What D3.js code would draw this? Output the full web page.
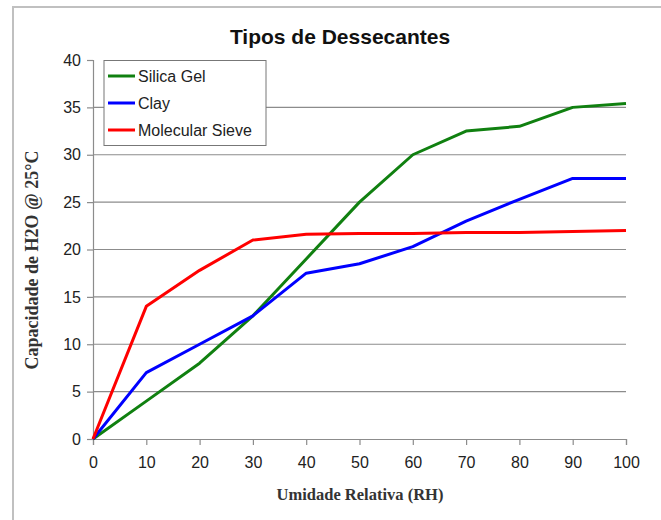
<!DOCTYPE html>
<html><head><meta charset="utf-8">
<script src="https://cdn.jsdelivr.net/npm/d3@7"></script>
<style>body{margin:0;background:#fff}svg{display:block}</style>
</head><body>
<script>
const xValues = [0,10,20,30,40,50,60,70,80,90,100];
const silicaGel = [0,4,8,13,19,25,30,32.5,33,35,35.4];
const clay = [0,7,10,13,17.5,18.5,20.3,23,25.3,27.5,27.5];
const molecularSieve = [0,14,17.8,21,21.6,21.7,21.7,21.8,21.8,21.9,22];
const yTicks = [0,5,10,15,20,25,30,35,40];
const xTicks = [0,10,20,30,40,50,60,70,80,90,100];
const seriesNames = ["Silica Gel","Clay","Molecular Sieve"];
const colors = ["#108010","#0000ff","#ff0000"];

const W=661,H=520;
const svg=d3.select("body").append("svg").attr("width",W).attr("height",H);
// outer frame
svg.append("path").attr("d","M13,520 L13,7 L661,7").attr("fill","none").attr("stroke","#c0c0c0").attr("stroke-width",2);

const x=d3.scaleLinear().domain([0,100]).range([93,626]);
const y=d3.scaleLinear().domain([0,40]).range([439,60]);

// gridlines
svg.append("g").selectAll("line").data(yTicks.filter(d=>d>0&&d<40)).join("line")
  .attr("x1",x(0)).attr("x2",x(100)).attr("y1",d=>y(d)).attr("y2",d=>y(d))
  .attr("stroke","#8c8c8c").attr("stroke-width",1.2);

const yAxis=svg.append("g").attr("transform",`translate(${x(0)},0)`)
  .call(d3.axisLeft(y).tickValues(yTicks).tickSize(6).tickPadding(6));
const xAxis=svg.append("g").attr("transform",`translate(0,${y(0)})`)
  .call(d3.axisBottom(x).tickValues(xTicks).tickSize(6).tickPadding(12));
[yAxis,xAxis].forEach(a=>{
  a.select(".domain").attr("stroke","#8c8c8c").attr("stroke-width",1.2);
  a.selectAll(".tick line").attr("stroke","#8c8c8c").attr("stroke-width",1.2);
  a.selectAll("text").attr("font-family","Liberation Sans, Arial, sans-serif").attr("font-size",16).attr("fill","#222");
});

const data=[silicaGel,clay,molecularSieve];
const line=d3.line().x((d,i)=>x(xValues[i])).y(d=>y(d));
data.forEach((s,k)=>{
  svg.append("path").datum(s).attr("d",line).attr("fill","none")
    .attr("stroke",colors[k]).attr("stroke-width",3).attr("stroke-linejoin","round");
});

// title
svg.append("text").attr("x",340).attr("y",44).attr("text-anchor","middle")
  .attr("font-family","Liberation Sans, Arial, sans-serif").attr("font-weight","bold").attr("font-size",21)
  .attr("fill","#111").text("Tipos de Dessecantes");

// axis titles
svg.append("text").attr("x",360).attr("y",500).attr("text-anchor","middle")
  .attr("font-family","Liberation Serif, Times New Roman, serif").attr("font-weight","bold").attr("font-size",16.5)
  .attr("fill","#333").text("Umidade Relativa (RH)");
svg.append("text").attr("transform","translate(38,260) rotate(-90)").attr("text-anchor","middle")
  .attr("font-family","Liberation Serif, Times New Roman, serif").attr("font-weight","bold").attr("font-size",18)
  .attr("fill","#333").text("Capacidade de H2O @ 25°C");

// legend
const lg=svg.append("g");
lg.append("rect").attr("x",104).attr("y",60.5).attr("width",162).attr("height",85)
  .attr("fill","#fff").attr("stroke","#777").attr("stroke-width",1);
seriesNames.forEach((n,k)=>{
  const yy=76+k*27;
  lg.append("line").attr("x1",108).attr("x2",135).attr("y1",yy).attr("y2",yy)
    .attr("stroke",colors[k]).attr("stroke-width",3);
  lg.append("text").attr("x",138).attr("y",yy+6).attr("font-family","Liberation Sans, Arial, sans-serif")
    .attr("font-size",16).attr("fill","#222").text(n);
});
</script>
</body></html>
